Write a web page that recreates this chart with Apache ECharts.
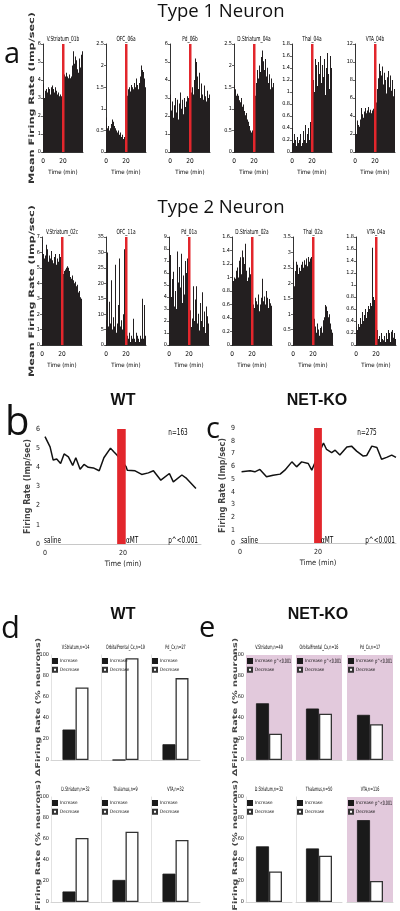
<!DOCTYPE html>
<html><head><meta charset="utf-8">
<script src="https://cdn.jsdelivr.net/npm/echarts@6/dist/echarts.min.js"></script>
<style>html,body{margin:0;padding:0;background:#fff}#c{width:400px;height:911px}</style>
</head><body><div id="c"></div>
<script>
// ---------- DATA ----------
// Panel a, Type 1 neurons: 1-min bins (0-40 min), imp/sec
const t1Titles = ['V.Striatum_01b','OFC_06a','Pd_06b','D.Striatum_04a','Thal_04a','VTA_04b'];
const t1Max = [6, 2.5, 6, 2.5, 1.8, 12];
const t1Step = [1, 0.5, 1, 0.5, 0.2, 2];
const t1_VStr_01b = [3.8,3.0,3.4,3.5,3.3,3.6,3.5,3.2,3.6,3.7,3.5,3.3,3.6,3.4,3.2,3.3,3.1,3.2,3.1,3.2,4.3,4.3,4.2,4.4,4.2,4.1,4.3,4.1,4.2,4.8,5.6,4.9,5.3,5.1,4.6,4.4,5.2,4.7,5.4,5.6];
const t1_OFC_06a = [0.8,0.55,0.6,0.5,0.55,0.65,0.75,0.7,0.6,0.55,0.5,0.45,0.5,0.4,0.45,0.35,0.4,0.3,0.35,0.5,1.2,1.3,1.45,1.5,1.4,1.55,1.5,1.45,1.6,1.5,1.7,1.55,1.45,1.6,1.75,2.0,1.9,1.85,1.7,1.5];
const t1_Pd_06b = [3.2,2.3,2.8,1.9,2.6,3.0,2.2,2.9,1.8,2.7,3.3,2.4,2.9,2.1,3.0,2.5,2.8,3.1,3.0,3.1,3.3,3.3,3.6,3.2,4.0,5.2,5.0,4.2,3.5,4.4,3.0,3.8,3.2,2.9,3.7,3.1,2.8,3.4,3.0,3.2];
const t1_DStr_04a = [1.55,1.45,1.3,1.35,1.3,1.2,1.15,1.25,1.05,1.1,0.95,0.85,0.9,0.75,0.7,0.6,0.5,0.45,0.5,0.55,1.2,1.3,1.6,1.9,1.7,2.0,1.85,2.2,2.35,2.1,1.9,2.15,1.75,1.95,1.6,1.8,1.45,1.7,1.5,1.6];
const t1_Thal_04a = [0.4,0.15,0.3,0.2,0.1,0.25,0.15,0.2,0.3,0.1,0.15,0.35,0.2,0.45,0.15,0.3,0.4,0.2,0.5,0.55,0.9,1.2,1.0,1.55,1.45,1.1,1.5,1.3,1.6,1.15,1.45,1.25,1.55,0.95,1.4,1.65,1.3,1.05,1.6,1.4];
const t1_VTA_04b = [2.2,2.0,3.5,3.0,2.8,3.6,4.9,4.2,3.8,4.5,4.9,4.3,4.6,5.0,4.4,4.7,4.3,4.6,4.8,5.2,6.5,5.5,7.0,8.2,9.8,9.0,8.5,9.5,7.5,8.8,8.0,6.5,8.3,9.0,7.2,8.5,6.8,8.0,6.2,7.0];
// Panel a, Type 2 neurons
const t2Titles = ['V.Striatum_02c','OFC_11a','Pd_01a','D.Striatum_02a','Thal_02a','VTA_04a'];
const t2Max = [7, 35, 9, 1.6, 3.5, 1.8];
const t2Step = [1, 5, 1, 0.2, 0.5, 0.2];
const t2_VStr_02c = [6.8,5.9,5.6,5.8,6.5,6.2,5.4,5.8,5.6,6.1,5.5,5.3,5.7,5.9,5.2,5.6,5.4,5.9,5.7,5.8,5.0,4.6,4.8,4.9,5.0,5.1,5.0,4.8,4.4,4.3,4.5,4.2,4.0,4.1,3.8,3.9,3.4,3.5,3.1,3.0];
const t2_OFC_11a = [8,30,6,14,7,21,5,9,6,26,4,7,13,28,6,8,5,10,31,4,2,3,2,4,1,3,2,8.5,2,1,4,3,2,1,3,2,15,2,13,3];
const t2_Pd_01a = [8.2,7.5,4.0,5.5,6.1,3.2,4.5,3.0,7.8,5.2,6.5,4.8,7.6,3.5,5.8,4.2,7.0,6.0,7.2,3,2.5,2.9,1.5,2.2,4.9,2.0,3.8,4.9,1.8,2.6,1.2,3.5,2.0,4.4,1.5,2.8,1.0,3.2,2.4,1.8];
const t2_DStr_02a = [1.22,0.95,1.0,0.98,1.1,1.15,1.0,1.25,1.3,1.05,1.4,1.3,1.2,1.5,1.1,0.95,1.0,1.15,1.05,1.0,0.8,0.6,0.55,0.7,0.65,0.6,0.75,0.5,0.6,0.7,0.98,0.65,0.72,0.6,0.8,0.7,0.55,0.68,0.62,0.58];
const t2_Thal_02a = [2.7,1.9,2.4,2.7,2.6,2.3,2.5,2.4,2.6,2.7,2.5,2.75,2.6,2.8,2.55,2.85,2.7,2.8,2.85,2.9,1.0,0.85,0.6,0.4,0.7,0.5,0.3,0.55,0.6,0.4,0.8,0.9,1.3,1.25,1.1,0.9,1.0,0.7,0.5,0.4];
const t2_VTA_04a = [0.3,0.25,0.35,0.3,0.45,0.35,0.55,0.4,0.5,0.6,0.45,0.55,0.65,0.6,0.7,0.65,1.62,0.8,0.75,0.8,0.3,0.25,0.1,0.15,0.05,0.2,0.1,0.08,0.15,0.05,0.2,0.1,0.25,0.2,0.05,0.22,0.25,0.12,0.2,0.1];
const histAmt = [19, 21.5];          // aMT window (min) in panel a
// Panels b, c: population firing rate (time min, imp/sec)
const wtTime = [0,1.3,2.1,3.0,4.0,4.9,6.0,7.1,7.9,9.0,10.0,11.1,12.4,13.9,15.1,16.8,17.7,18.5,20.8,21.1,23.1,24.8,26.5,27.8,29.7,31.9,32.9,35.1,36.3,38.7];
const wtRate = [5.6,5.07,4.38,4.43,4.2,4.7,4.55,4.1,4.5,3.9,4.15,4.0,3.97,3.82,4.5,5.0,4.8,4.63,4.03,3.85,3.82,3.63,3.71,3.82,3.33,3.68,3.24,3.6,3.42,2.9];
const koTime = [0.4,2.6,3.8,5.1,6.8,8.5,10.3,11.5,13.3,14.5,15.8,17.5,18.4,21.4,22.2,23.5,24.4,25.6,27.4,28.6,29.9,31.6,32.5,33.8,35.1,36.3,37.6,38.9,40.0];
const koRate = [5.57,5.65,5.57,5.76,5.18,5.31,5.39,5.7,6.35,5.96,6.35,6.22,5.7,7.83,7.32,7.08,7.26,6.88,7.52,7.58,7.19,6.8,6.85,7.58,7.48,6.56,6.7,6.88,6.7];
const wtTicks = [0, 1, 2, 3, 4, 5, 6];
const koTicks = [0, 1, 2, 3, 4, 5, 6, 7, 8, 9];
const wtAmt = [18.5, 20.7];
const koAmt = [19.0, 21.0];
// Panels d, e: % neurons increase / decrease
const wtRegions = ['V.Striatum,n=14','OrbitalFrontal_Cx,n=19','Pd_Cx,n=27','D.Striatum,n=32','Thalamus,n=9','VTA,n=32'];
const wtIncrease = [29, 0, 15, 10, 21, 27];
const wtDecrease = [69, 97, 78, 61, 67, 59];
const koRegions = ['V.Striatum,n=49','OrbitalFrontal_Cx,n=16','Pd_Cx,n=17','D.Striatum,n=32','Thalamus,n=50','VTA,n=116'];
const koIncrease = [54, 49, 43, 53, 51, 78];
const koDecrease = [25, 44, 34, 29, 44, 20];
const koSignificant = [true, true, true, false, false, true];

// ---------- BUILD ----------
const RED = '#e2262c', BLK = '#231f20', PINK = '#e2c9dc';
const FN = "'Liberation Sans Narrow','DejaVu Sans Condensed','Liberation Sans',sans-serif";
const FT = "'Open Sans','Noto Sans',sans-serif";
const FW = "'DejaVu Sans',sans-serif";
const FB = "'Liberation Sans','Arimo',sans-serif";
const grid = [], xAxis = [], yAxis = [], series = [], graphic = [], legend = [];

function txt(text, x, y, o) {
  o = o || {};
  graphic.push({type: 'text', x: x, y: y, rotation: o.rot || 0, scaleX: o.sx || 1, silent: true, z: 100,
    style: {text: text, fontSize: o.fs || 7, fontFamily: o.ff || FN, fontWeight: o.fw || 'normal',
      fill: o.c || '#000', align: o.al || 'center', verticalAlign: 'middle',
      textAlign: o.al || 'center', textVerticalAlign: 'middle'}});
}
function redBand(i, win, ymax) {
  return {type: 'custom', xAxisIndex: i, yAxisIndex: i, z: 5, silent: true, data: [[win[0], win[1], ymax]],
    renderItem: function (p, api) {
      const a = api.coord([api.value(0), api.value(2)]);
      const b = api.coord([api.value(1), 0]);
      return {type: 'rect', shape: {x: a[0], y: a[1], width: b[0] - a[0], height: b[1] - a[1]}, style: {fill: RED}};
    }};
}
function addHist(title, bins, ymax, step, left, top) {
  const i = grid.length;
  grid.push({left: left, top: top, width: 40, height: 108, outerBoundsMode: 'none'});
  xAxis.push({type: 'value', gridIndex: i, min: 0, max: 40, interval: 20,
    axisLine: {show: true, onZero: false, lineStyle: {color: '#000', width: 0.8}}, axisTick: {show: false}, splitLine: {show: false},
    axisLabel: {fontSize: 6.5, fontFamily: FN, color: '#000', margin: 6, showMaxLabel: false},
    name: 'Time (min)', nameLocation: 'middle', nameGap: 17, nameTextStyle: {fontSize: 6, fontFamily: FN, color: '#000'}});
  yAxis.push({type: 'value', gridIndex: i, min: 0, max: ymax, interval: step,
    axisLine: {show: true, lineStyle: {color: '#000', width: 0.8}}, axisTick: {show: true, length: 2, lineStyle: {color: '#000', width: 0.6}},
    splitLine: {show: false}, axisLabel: {fontSize: 5.5, fontFamily: FN, color: '#000', margin: 2, hideOverlap: false}});
  series.push({type: 'bar', xAxisIndex: i, yAxisIndex: i, data: bins.map(function (v, k) { return [k + 0.5, v]; }),
    barWidth: 1, itemStyle: {color: BLK}, silent: true});
  series.push(redBand(i, histAmt, ymax));
  txt(title, left + 20, top - 5, {fs: 7, sx: 0.68});
}
const t1Data = [t1_VStr_01b, t1_OFC_06a, t1_Pd_06b, t1_DStr_04a, t1_Thal_04a, t1_VTA_04b];
const t2Data = [t2_VStr_02c, t2_OFC_11a, t2_Pd_01a, t2_DStr_02a, t2_Thal_02a, t2_VTA_04a];
const row1Left = [43, 106, 170, 234, 292, 355];
const row2Left = [42, 106, 169, 232, 293, 356];
for (let k = 0; k < 6; k++) addHist(t1Titles[k], t1Data[k], t1Max[k], t1Step[k], row1Left[k], 44);
for (let k = 0; k < 6; k++) addHist(t2Titles[k], t2Data[k], t2Max[k], t2Step[k], row2Left[k], 237);

function addLine(times, rates, ticks, win, left, top) {
  const i = grid.length;
  const ymax = ticks[ticks.length - 1];
  grid.push({left: left, top: top, width: 156, height: 115, outerBoundsMode: 'none'});
  xAxis.push({type: 'value', gridIndex: i, min: 0, max: 40, interval: 20,
    axisLine: {show: true, onZero: false, lineStyle: {color: '#c8c8c8', width: 1}}, axisTick: {show: false}, splitLine: {show: false},
    axisLabel: {fontSize: 7, fontFamily: FN, color: '#222', margin: 6, showMaxLabel: false},
    name: 'Time (min)', nameLocation: 'middle', nameGap: 16, nameTextStyle: {fontSize: 7.5, fontFamily: FN, color: '#222'}});
  yAxis.push({type: 'value', gridIndex: i, min: 0, max: ymax, interval: 1,
    axisLine: {show: false}, axisTick: {show: false}, splitLine: {show: false},
    axisLabel: {fontSize: 7, fontFamily: FN, color: '#222', margin: 5},
    name: 'Firing Rate (Imp/sec)', nameLocation: 'middle', nameGap: 12, nameRotate: 90,
    nameTextStyle: {fontSize: 8, fontFamily: FW, fontWeight: 'bold', color: '#444'}});
  series.push({type: 'line', xAxisIndex: i, yAxisIndex: i, data: times.map(function (t, k) { return [t, rates[k]]; }),
    showSymbol: false, lineStyle: {color: '#111', width: 1.5}, z: 2, silent: true});
  series.push(redBand(i, win, ymax));
}
addLine(wtTime, wtRate, wtTicks, wtAmt, 45, 429);
addLine(koTime, koRate, koTicks, koAmt, 240, 428);

function addBars(title, inc, dec, left, top, width, labels, pink, sig) {
  const i = grid.length;
  grid.push({left: left, top: top, width: width, height: 105, outerBoundsMode: 'none',
    show: pink, backgroundColor: pink ? PINK : 'transparent', borderWidth: 0});
  xAxis.push({type: 'category', gridIndex: i, data: [''], axisLine: {show: true, lineStyle: {color: '#d4d4d4'}},
    axisTick: {show: false}, axisLabel: {show: false}});
  yAxis.push({type: 'value', gridIndex: i, min: 0, max: 100, interval: 20,
    axisLine: {show: !pink, lineStyle: {color: '#e2e2e2'}}, axisTick: {show: false}, splitLine: {show: false},
    axisLabel: {show: labels, fontSize: 5.5, fontFamily: FN, color: '#222', margin: 2}});
  series.push({type: 'bar', name: 'Increase', xAxisIndex: i, yAxisIndex: i, data: [inc], barWidth: 13, barGap: '0%',
    itemStyle: {color: '#1a1a1a', borderColor: '#1a1a1a', borderWidth: 0.8}, silent: true});
  series.push({type: 'bar', name: 'Decrease', xAxisIndex: i, yAxisIndex: i, data: [dec], barWidth: 13, barGap: '0%',
    itemStyle: {color: '#fff', borderColor: '#333', borderWidth: 1.3}, silent: true});
  legend.push({orient: 'vertical', left: left + 1, top: top + 3, padding: 0, itemWidth: 4, itemHeight: 4, itemGap: 2.8,
    selectedMode: false, data: ['Increase', 'Decrease'], icon: 'rect',
    textStyle: {fontSize: 4.6, fontFamily: FN, color: '#111', padding: [0, 0, 0, -2]}});
  txt(title, left + width / 2, top - 8, {fs: 6, sx: 0.62});
  if (sig) txt('p^<0.001', left + width - 1, top + 6, {fs: 6, sx: 0.6, al: 'right'});
}
const dLeft = [51, 101, 151], eLeft = [246, 296, 347], barTop = [655, 797];
for (let k = 0; k < 6; k++) {
  const r = Math.floor(k / 3), c = k % 3;
  addBars(wtRegions[k], wtIncrease[k], wtDecrease[k], dLeft[c], barTop[r], 49, c === 0, false, false);
  addBars(koRegions[k], koIncrease[k], koDecrease[k], eLeft[c], barTop[r], 46, c === 0, koSignificant[k], koSignificant[k]);
}

// ---------- TEXT ----------
txt('Type 1 Neuron', 221, 12, {fs: 18.5, ff: FT, c: '#111'});
txt('Type 2 Neuron', 221, 208, {fs: 18.5, ff: FT, c: '#111'});
txt('a', 4, 55, {fs: 29, ff: FT, al: 'left', c: '#111'});
txt('b', 5, 424, {fs: 40, ff: FT, al: 'left', c: '#111'});
txt('c', 206, 430, {fs: 29, ff: FT, al: 'left', c: '#111'});
txt('d', 1, 629, {fs: 31, ff: FT, al: 'left', c: '#111'});
txt('e', 199, 629, {fs: 29, ff: FT, al: 'left', c: '#111'});
txt('Mean Firing Rate (Imp/sec)', 32, 98, {fs: 7.5, ff: FW, fw: 'bold', rot: Math.PI / 2, sx: 1.5, c: '#333'});
txt('Mean Firing Rate (Imp/sec)', 32, 291, {fs: 7.5, ff: FW, fw: 'bold', rot: Math.PI / 2, sx: 1.5, c: '#333'});
txt('WT', 123, 401, {fs: 16, ff: FB, fw: 'bold', c: '#111'});
txt('NET-KO', 317, 401, {fs: 16, ff: FB, fw: 'bold', c: '#111'});
txt('WT', 123, 615, {fs: 16, ff: FB, fw: 'bold', c: '#111'});
txt('NET-KO', 318, 615, {fs: 16, ff: FB, fw: 'bold', c: '#111'});
txt('n=163', 178, 433, {fs: 8, sx: 0.8});
txt('n=275', 367, 433, {fs: 8, sx: 0.8});
txt('saline', 44, 541, {fs: 8, al: 'left', sx: 0.8});
txt('\u03B1MT', 126, 541, {fs: 8, al: 'left', sx: 0.8});
txt('p^<0.001', 198, 541, {fs: 8, al: 'right', sx: 0.8});
txt('saline', 241, 541, {fs: 8, al: 'left', sx: 0.8});
txt('\u03B1MT', 321, 541, {fs: 8, al: 'left', sx: 0.8});
txt('p^<0.001', 395, 541, {fs: 8, al: 'right', sx: 0.8});
txt('\u0394Firing Rate (% neurons)', 38, 707, {fs: 6.5, ff: FW, fw: 'bold', rot: Math.PI / 2, sx: 1.5, c: '#444'});
txt('\u0394Firing Rate (% neurons)', 38, 849, {fs: 6.5, ff: FW, fw: 'bold', rot: Math.PI / 2, sx: 1.5, c: '#444'});
txt('\u0394Firing Rate (% neurons)', 235, 707, {fs: 6.5, ff: FW, fw: 'bold', rot: Math.PI / 2, sx: 1.5, c: '#444'});
txt('\u0394Firing Rate (% neurons)', 235, 849, {fs: 6.5, ff: FW, fw: 'bold', rot: Math.PI / 2, sx: 1.5, c: '#444'});

const chart = echarts.init(document.getElementById('c'), null, {renderer: 'canvas'});
chart.setOption({animation: false, backgroundColor: '#fff', grid: grid, xAxis: xAxis, yAxis: yAxis,
  series: series, legend: legend, graphic: graphic, tooltip: {show: false}});
</script></body></html>
